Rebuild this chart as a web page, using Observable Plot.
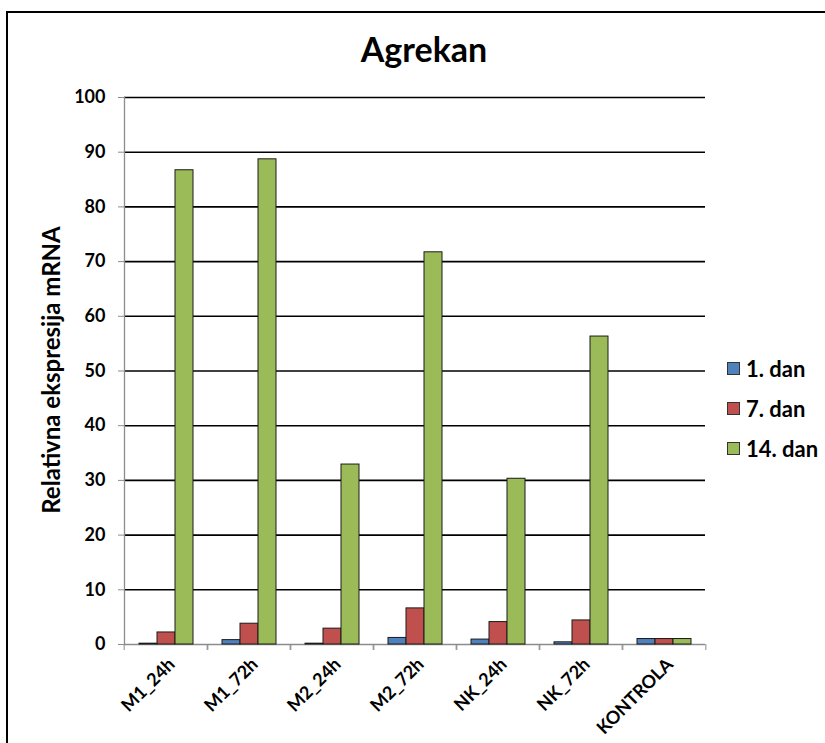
<!DOCTYPE html>
<html>
<head>
<meta charset="utf-8">
<script src="https://cdn.jsdelivr.net/npm/d3@7"></script>
<script src="https://cdn.jsdelivr.net/npm/@observablehq/plot@0.6"></script>
<style>
  html, body { margin: 0; padding: 0; background: #fff; overflow: hidden; }
  #wrap { position: relative; width: 825px; height: 743px; overflow: hidden; font-family: Lato, "Open Sans", sans-serif; }
  #border { position: absolute; left: 6px; top: 11px; width: 900px; height: 900px; border: 2px solid #000; box-sizing: border-box; }
  #title { position: absolute; left: 0; width: 848px; top: 28px; text-align: center; font-weight: bold; font-size: 34px; color: #000; }
  #ylabel { position: absolute; left: 50px; top: 370px; transform: translate(-50%, -50%) rotate(-90deg); white-space: nowrap; font-weight: bold; font-size: 24px; color: #000; }
  #chart { position: absolute; left: 0; top: 0; }
  .leg { position: absolute; left: 727px; font-weight: bold; font-size: 22px; color: #000; display: flex; align-items: center; }
  .leg span.sw { display: inline-block; width: 11px; height: 11px; border: 1px solid #333; margin-right: 6px; }
</style>
</head>
<body>
<div id="wrap">
  <div id="border"></div>
  <div id="chart"></div>
  <div id="title">Agrekan</div>
  <div id="ylabel">Relativna ekspresija mRNA</div>
  <div id="legend"></div>
</div>
<script>
const categories = ["M1_24h", "M1_72h", "M2_24h", "M2_72h", "NK_24h", "NK_72h", "KONTROLA"];
const series = ["1. dan", "7. dan", "14. dan"];
const dan1 = [0.15, 0.8, 0.15, 1.2, 0.9, 0.4, 1.0];
const dan7 = [2.2, 3.8, 2.9, 6.6, 4.1, 4.4, 1.0];
const dan14 = [86.7, 88.7, 32.9, 71.7, 30.3, 56.3, 1.0];
const colors = ["#4F81BD", "#C0504D", "#9BBB59"];
const yTicks = [0, 10, 20, 30, 40, 50, 60, 70, 80, 90, 100];

const values = [dan1, dan7, dan14];
const rows = [];
categories.forEach((c, i) => series.forEach((s, j) => rows.push({cat: c, series: s, value: values[j][i]})));

const W = 825, H = 743;
const mL = 121, mR = 118, mT = 97, mB = 99;
const step = (W - mL - mR) / categories.length;

const plot = Plot.plot({
  width: W,
  height: H,
  marginLeft: mL,
  marginRight: mR,
  marginTop: mT,
  marginBottom: mB,
  style: {fontFamily: "Lato, 'Open Sans', sans-serif", fontWeight: "bold", background: "transparent", overflow: "visible"},
  fx: {domain: categories, padding: 0, axis: null, label: null},
  x: {domain: series, paddingInner: 0, paddingOuter: 0.7, axis: null},
  y: {domain: [0, 100], axis: null},
  color: {domain: series, range: colors},
  marks: [
    Plot.ruleY(yTicks.filter(d => d > 0), {stroke: "#000", strokeWidth: 1.6}),
    Plot.ruleY([0], {stroke: "#8c8c8c", strokeWidth: 1.3}),
    Plot.frame({anchor: "left", facetAnchor: "left", stroke: "#8c8c8c", strokeWidth: 1.3}),
    Plot.axisY({ticks: yTicks, tickSize: 6, tickPadding: 13, stroke: "#8c8c8c", fill: "#000",
      fontWeight: "bold", fontSize: 18, tickFormat: d => String(d), label: null}),
    Plot.axisFx({anchor: "bottom", tickSize: 6, dx: -step / 2, stroke: "#8c8c8c", tickFormat: () => "", label: null}),
    Plot.axisFx({anchor: "bottom", tickSize: 6, dx: step / 2, stroke: "#8c8c8c", tickFormat: () => "", label: null}),
    Plot.text(categories, {fx: d => d, text: d => d, frameAnchor: "bottom", rotate: -45, textAnchor: "end",
      lineAnchor: "top", dy: 12, dx: 1, fill: "#000", fontWeight: "bold", fontSize: 18}),
    Plot.barY(rows, {fx: "cat", x: "series", y: "value", fill: "series", stroke: "#1a1a1a", strokeWidth: 1})
  ]
});
document.getElementById("chart").appendChild(plot);

const legend = document.getElementById("legend");
series.forEach((s, j) => {
  const d = document.createElement("div");
  d.className = "leg";
  d.style.top = (355 + j * 40) + "px";
  d.innerHTML = `<span class="sw" style="background:${colors[j]}"></span>${s}`;
  legend.appendChild(d);
});
</script>
</body>
</html>
